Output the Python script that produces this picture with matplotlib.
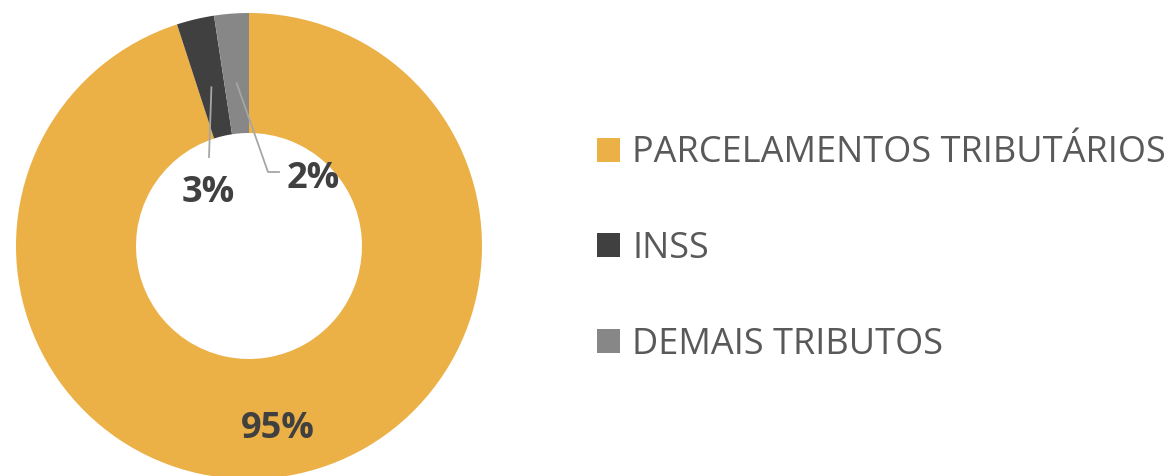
import matplotlib
matplotlib.use("Agg")
import matplotlib.pyplot as plt
import numpy as np

categories = ["PARCELAMENTOS TRIBUTÁRIOS", "INSS", "DEMAIS TRIBUTOS"]
values = [95.0, 2.6, 2.4]
labels = ["95%", "3%", "2%"]
colors = ["#EBB046", "#404040", "#878787"]

plt.rcParams['font.family'] = ['Open Sans', 'DejaVu Sans']

W, H = 1171, 476
fig = plt.figure(figsize=(W / 100, H / 100), dpi=100)
cx, cy, R = 249, 246, 233
ax = fig.add_axes([(cx - R) / W, (H - cy - R) / H, 2 * R / W, 2 * R / H])

inner = 113 / R
wedges, _ = ax.pie(values, colors=colors, startangle=90, counterclock=False,
                   radius=1.0, wedgeprops=dict(width=1 - inner, edgecolor='none'))
ax.set_xlim(-1, 1)
ax.set_ylim(-1, 1)
ax.set_aspect('equal')
ax.axis('off')

# data labels
txtc = "#404040"
linec = "#A6A6A6"
fs = 26
# 95%
w = wedges[0]
mid = np.deg2rad((w.theta1 + w.theta2) / 2)
r = 0.795
ax.text(r * np.cos(mid), r * np.sin(mid), labels[0], ha='center', va='center',
        fontsize=fs, fontweight='bold', color=txtc)

def px(x, y):
    return ((x - cx) / R, (cy - y) / R)

# 3% with leader line
w = wedges[1]
mid = np.deg2rad((w.theta1 + w.theta2) / 2)
r0 = 0.70
p0 = (r0 * np.cos(mid), r0 * np.sin(mid))
p1 = px(209, 157)
ax.plot([p0[0], p1[0]], [p0[1], p1[1]], color=linec, lw=1.3)
tx, ty = px(208, 193)
ax.text(tx, ty, labels[1], ha='center', va='center', fontsize=fs,
        fontweight='bold', color=txtc)

# 2% with leader line
w = wedges[2]
mid = np.deg2rad((w.theta1 + w.theta2) / 2)
p0 = (r0 * np.cos(mid), r0 * np.sin(mid))
p1 = px(268, 172)
p2 = px(279, 172)
ax.plot([p0[0], p1[0], p2[0]], [p0[1], p1[1], p2[1]], color=linec, lw=1.3)
tx, ty = px(313, 179)
ax.text(tx, ty, labels[2], ha='center', va='center', fontsize=fs,
        fontweight='bold', color=txtc)

leg = fig.legend(wedges, categories, loc='center left',
                 bbox_to_anchor=(597 / W, (H - 249) / H),
                 frameon=False, fontsize=26, labelcolor="#595959",
                 handlelength=0.64, handleheight=0.64, handletextpad=0.33,
                 labelspacing=1.65, borderpad=0, borderaxespad=0)

fig.savefig("out.png", dpi=100)
